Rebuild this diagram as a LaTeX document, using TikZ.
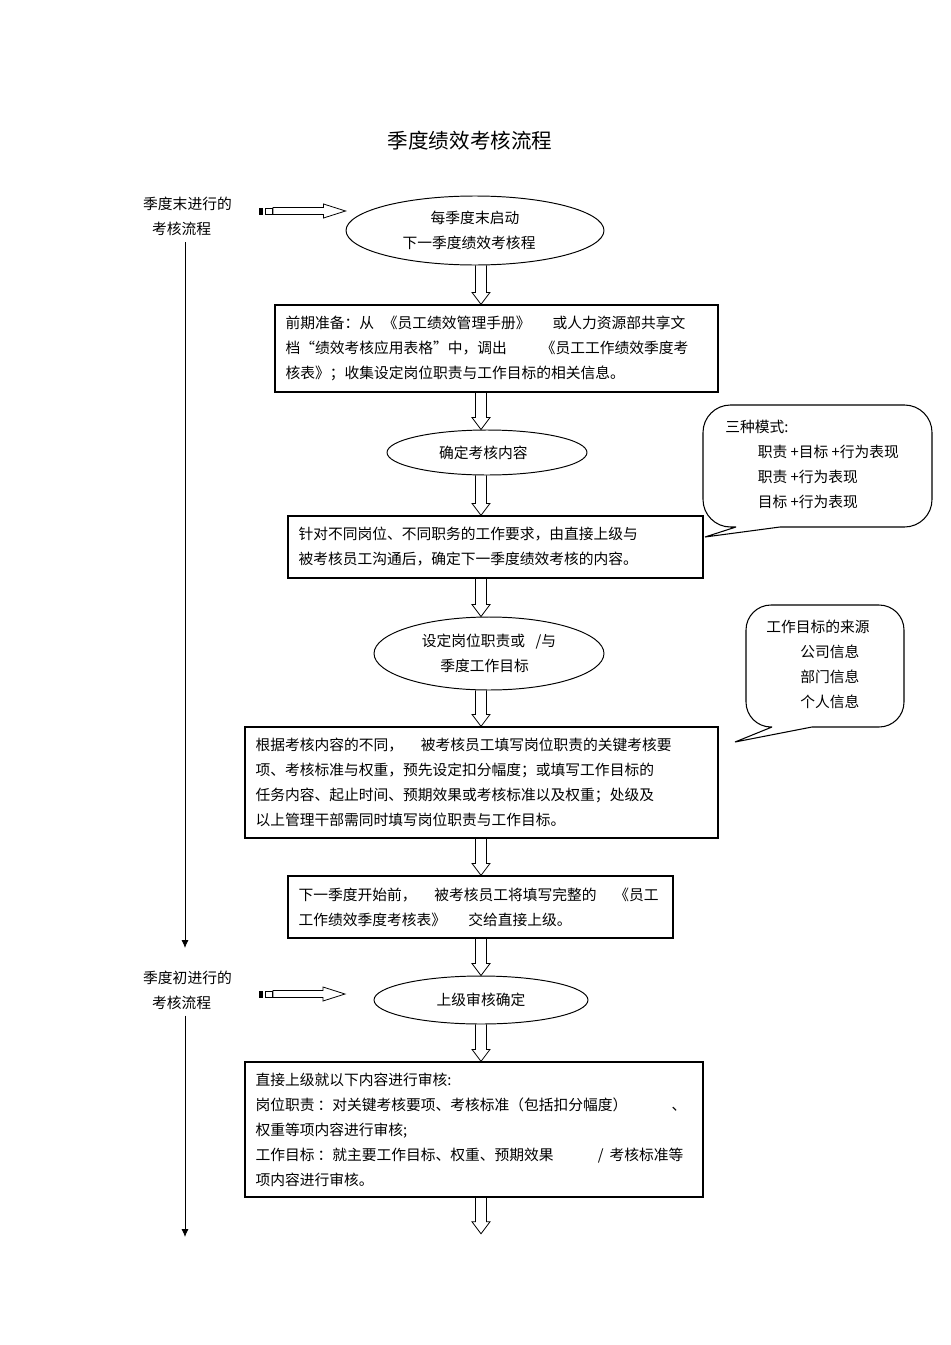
\documentclass[tikz,border=0pt]{standalone}
\usepackage{fontspec}
\setmainfont{Noto Sans CJK SC}
\usepackage{tikz}
\usetikzlibrary{calc,shapes.geometric,shadows,arrows.meta}

% hollow arrow down the middle column
\newcommand{\flowarrow}[2]{%
  \draw[hollow] let \p1=(#1.south -| spine), \p2=(#2.north -| spine) in
    (\x1-0.11cm,\y1) -- (\x1-0.11cm,\y2+0.24cm) -- (\x1-0.18cm,\y2+0.24cm)
    -- (\x1,\y2) -- (\x1+0.18cm,\y2+0.24cm) -- (\x1+0.11cm,\y2+0.24cm)
    -- (\x1+0.11cm,\y1);}
% small pointer arrow beside the lane labels
\newcommand{\sidearrow}[2]{%
  \fill let \p1=(#1) in (\x1,\y1-0.07cm) rectangle (\x1+0.08cm,\y1+0.07cm);
  \draw[hollow] let \p1=(#1) in (\x1+0.12cm,\y1-0.06cm) rectangle (\x1+0.26cm,\y1+0.06cm);
  \draw[hollow] let \p1=(#1), \p2=(#2) in
    (\x1+0.28cm,\y1-0.07cm) -- (\x2-0.44cm,\y1-0.07cm) -- (\x2-0.44cm,\y1-0.14cm)
    -- (\x2,\y1) -- (\x2-0.44cm,\y1+0.14cm) -- (\x2-0.44cm,\y1+0.07cm)
    -- (\x1+0.28cm,\y1+0.07cm) -- cycle;}

\begin{document}
\begin{tikzpicture}[x=0.02cm,y=-0.02cm,
    txt/.style={font=\fontsize{8.4}{14.2}\selectfont},
    stage/.style={txt,draw,line width=0.7pt,fill=white,align=left,inner xsep=0.21cm,
      drop shadow={shadow xshift=0.7pt,shadow yshift=-0.7pt,fill=black!60,opacity=0.8}},
    event/.style={txt,draw,ellipse,line width=0.55pt,align=center,inner sep=0pt},
    hollow/.style={line width=0.45pt},
    bubble/.style={line width=0.6pt},
    lane/.style={line width=0.5pt,-{Latex[length=4.5pt,width=4pt]}}]
    \useasboundingbox (0,0) rectangle (950,1345);
    \coordinate (spine) at (481,0);

    \node[font=\fontsize{11.7}{14}\selectfont] (title) at (470,141) {季度绩效考核流程};

    % lane labels
    \node[txt,align=left] (late) at (187.5,216.5) {季度末进行的\\\hspace*{0.6em}考核流程};
    \node[txt,align=left] (early) at (187.5,990) {季度初进行的\\\hspace*{0.6em}考核流程};
    \coordinate (lane1) at (185,948);
    \coordinate (lane2) at (185,1237);
    \draw[lane] (late.south -| lane1) -- (lane1);
    \draw[lane] (early.south -| lane2) -- (lane2);

    % main column
    \node[event,minimum width=5.16cm,minimum height=1.38cm] (start) at (475,230.5)
        {每季度末启动\\下一季度绩效考核程\kern0.8em};
    \node[stage,text width=8.44cm,minimum height=1.74cm] (prep) at (496.5,348.5)
        {前期准备：从\kern0.6em《员工绩效管理手册》\kern1.5em或人力资源部共享文\\
         档“绩效考核应用表格”中，调出\kern2.3em《员工工作绩效季度考\\
         核表》；收集设定岗位职责与工作目标的相关信息。};
    \node[event,minimum width=4cm,minimum height=0.9cm] (content) at (487,452.5) {确定考核内容\kern0.5em};
    \node[stage,text width=7.88cm,minimum height=1.24cm] (talk) at (495.5,547)
        {针对不同岗位、不同职务的工作要求，由直接上级与\\
         被考核员工沟通后，确定下一季度绩效考核的内容。};
    \node[event,minimum width=4.6cm,minimum height=1.46cm] (goals) at (489,653.5)
        {设定岗位职责或\kern0.7em/与\\季度工作目标\kern0.6em};
    \node[stage,text width=9.04cm,minimum height=2.22cm] (fill) at (481.5,782.5)
        {根据考核内容的不同，\kern1.2em被考核员工填写岗位职责的关键考核要\\
         项、考核标准与权重，预先设定扣分幅度；或填写工作目标的\\
         任务内容、起止时间、预期效果或考核标准以及权重；处级及\\
         以上管理干部需同时填写岗位职责与工作目标。};
    \node[stage,text width=7.28cm,minimum height=1.24cm] (handin) at (480.5,907)
        {下一季度开始前，\kern1.2em被考核员工将填写完整的\kern1.2em《员工\\
         工作绩效季度考核表》\kern1.5em交给直接上级。};
    \node[event,minimum width=4.28cm,minimum height=0.96cm] (review) at (481,1000) {上级审核确定};
    \node[stage,text width=8.74cm,minimum height=2.7cm] (check) at (474,1129.5)
        {直接上级就以下内容进行审核:\\
         岗位职责\kern0.2em：对关键考核要项、考核标准（包括扣分幅度）\kern3em、\\
         权重等项内容进行审核;\\
         工作目标\kern0.2em：就主要工作目标、权重、预期效果\kern3em/\kern0.4em考核标准等\\
         项内容进行审核。};
    \node[inner sep=0pt] (tail) at (481,1235) {};

    \flowarrow{start}{prep}
    \flowarrow{prep}{content}
    \flowarrow{content}{talk}
    \flowarrow{talk}{goals}
    \flowarrow{goals}{fill}
    \flowarrow{fill}{handin}
    \flowarrow{handin}{review}
    \flowarrow{review}{check}
    \flowarrow{check}{tail}

    % pointers from the lane labels
    \coordinate (q1) at (259,211);
    \coordinate (q2) at (259,994);
    \coordinate (q2tip) at (345,994);
    \sidearrow{q1}{q1 -| start.west}
    \sidearrow{q2}{q2tip}

    % callouts
    \draw[bubble] (736,527) -- (705,537) -- (780,527) [rounded corners=0.55cm]
        -- (932,527) -- (932,405) -- (703,405) -- (703,527) -- (736,527);
    \node[txt,align=left,anchor=west,inner sep=0pt] (modes) at (725,464)
        {三种模式:\\\hspace*{2.2em}职责 +目标 +行为表现\\
         \hspace*{2.2em}职责 +行为表现\\\hspace*{2.2em}目标 +行为表现};
    \draw[bubble] (772,727) -- (735,742) -- (812,727) [rounded corners=0.5cm]
        -- (904,727) -- (904,605) -- (746,605) -- (746,727) -- (772,727);
    \node[txt,align=left,anchor=west,inner sep=0pt] (sources) at (766,664)
        {工作目标的来源\\\hspace*{2.3em}公司信息\\
         \hspace*{2.3em}部门信息\\\hspace*{2.3em}个人信息};
\end{tikzpicture}
\end{document}
